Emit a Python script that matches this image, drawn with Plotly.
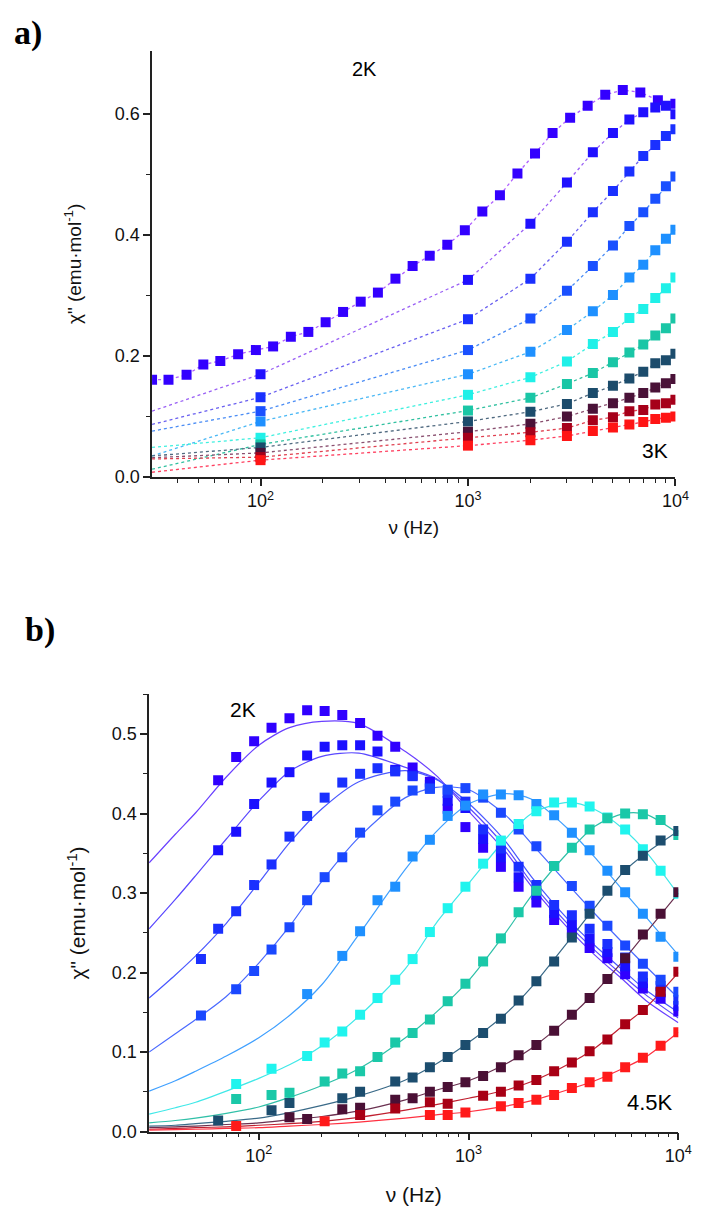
import math
import plotly.graph_objects as go

# ---------------- data ----------------
# shared frequency grid (Hz)
FREQ = [30, 36, 44, 53, 64, 78, 95, 115, 140, 170, 206, 250, 304, 368, 447, 541,
        654, 795, 966, 1173, 1426, 1732, 2105, 2558, 3108, 3776, 4590, 5577, 6775, 8231, 10000]

# panel a) 2 K .. 3 K
a_20 = [0.161, 0.161, 0.169, 0.186, 0.192, 0.203, 0.210, 0.216, 0.232, 0.240, 0.256, 0.273, 0.290, 0.305,
        0.328, 0.349, 0.366, 0.384, 0.408, 0.439, 0.466, 0.502, 0.535, 0.569, 0.594, 0.614, 0.632, 0.640,
        0.636, 0.623, 0.617]
A_FREQ = [100, 1000, 2000, 3000, 4000, 5000, 6000, 7000, 8000, 9000, 10000]
a_21 = [0.170, 0.326, 0.419, 0.487, 0.537, 0.569, 0.591, 0.603, 0.611, 0.614, 0.600]
a_22 = [0.132, 0.261, 0.328, 0.389, 0.438, 0.473, 0.505, 0.531, 0.549, 0.564, 0.575]
a_23 = [0.109, 0.210, 0.262, 0.308, 0.349, 0.383, 0.415, 0.438, 0.460, 0.481, 0.497]
a_24 = [0.092, 0.170, 0.207, 0.243, 0.274, 0.301, 0.330, 0.351, 0.375, 0.394, 0.409]
a_25 = [0.065, 0.136, 0.165, 0.191, 0.220, 0.240, 0.263, 0.278, 0.296, 0.312, 0.330]
a_26 = [0.054, 0.110, 0.131, 0.154, 0.172, 0.190, 0.206, 0.219, 0.234, 0.246, 0.262]
a_27 = [0.049, 0.092, 0.108, 0.121, 0.139, 0.151, 0.163, 0.174, 0.188, 0.193, 0.204]
a_28 = [0.040, 0.075, 0.088, 0.100, 0.113, 0.122, 0.131, 0.139, 0.148, 0.155, 0.162]
a_29 = [0.033, 0.065, 0.074, 0.081, 0.094, 0.099, 0.109, 0.111, 0.120, 0.122, 0.128]
a_30 = [0.028, 0.052, 0.061, 0.068, 0.076, 0.082, 0.087, 0.091, 0.096, 0.098, 0.100]
# where the dotted guide lines of a_21..a_30 enter at the left axis edge (30 Hz)
A_EDGE = [0.109, 0.087, 0.076, 0.035, 0.049, 0.013, 0.035, 0.032, 0.030, 0.008]

# panel b) 2 K .. 4.5 K, measured points on FREQ
N = None
b_200 = [N, N, N, N, 0.442, 0.471, 0.491, 0.508, 0.520, 0.530, 0.529, 0.524, 0.514, 0.498, 0.484, 0.458,
         0.440, 0.406, 0.383, 0.357, 0.333, 0.308, 0.288, 0.266, 0.250, 0.231, 0.218, 0.198, 0.180, 0.167, 0.151]
b_225 = [N, N, N, N, 0.354, 0.377, 0.412, 0.439, 0.452, 0.473, 0.484, 0.486, 0.486, 0.478, 0.455, 0.448,
         0.436, 0.416, 0.407, 0.368, 0.345, 0.320, 0.298, 0.275, 0.260, 0.243, 0.226, 0.208, 0.187, 0.175, 0.158]
b_250 = [N, N, N, 0.217, 0.255, 0.277, 0.310, 0.336, 0.371, 0.397, 0.420, 0.439, 0.450, 0.457, 0.453, 0.447,
         0.432, 0.426, 0.415, 0.380, 0.356, 0.333, 0.310, 0.285, 0.272, 0.255, 0.236, 0.219, 0.195, 0.183, 0.166]
b_275 = [N, N, N, 0.146, N, 0.179, 0.202, 0.229, 0.257, 0.291, 0.320, 0.345, 0.376, 0.404, 0.415, 0.429,
         0.431, 0.430, 0.432, 0.420, 0.401, 0.380, 0.359, 0.334, 0.309, 0.284, 0.259, 0.234, 0.211, 0.191, 0.176]
b_300 = [N, N, N, N, N, N, N, N, N, 0.173, N, 0.221, 0.252, 0.291, 0.308, 0.346,
         0.367, 0.397, 0.410, 0.424, 0.424, 0.423, 0.412, 0.398, 0.376, 0.354, 0.328, 0.301, 0.274, 0.245, 0.220]
b_325 = [N, N, N, N, N, 0.060, N, 0.079, N, 0.095, 0.112, 0.126, 0.147, 0.168, 0.191, 0.217,
         0.251, 0.281, 0.308, 0.337, 0.366, 0.387, 0.403, 0.414, 0.414, 0.409, 0.395, 0.380, 0.355, 0.328, 0.299]
b_350 = [N, N, N, N, N, 0.041, N, 0.046, 0.049, N, 0.063, 0.073, 0.076, 0.094, 0.112, 0.124,
         0.141, 0.164, 0.186, 0.214, 0.243, 0.276, 0.303, 0.334, 0.357, 0.380, 0.394, 0.400, 0.399, 0.392, 0.373]
b_375 = [N, N, N, N, 0.014, N, N, 0.027, 0.036, N, N, 0.042, 0.050, N, 0.063, 0.068,
         0.081, 0.094, 0.109, 0.124, 0.142, 0.165, 0.189, 0.214, 0.244, 0.274, 0.303, 0.329, 0.347, 0.366, 0.378]
b_400 = [N, N, N, N, N, N, N, N, 0.018, 0.016, N, 0.028, 0.030, N, 0.040, 0.042,
         0.050, 0.056, 0.062, 0.070, 0.081, 0.096, 0.109, 0.127, 0.147, 0.168, 0.192, 0.218, 0.248, 0.274, 0.301]
b_425 = [N, N, N, N, N, N, N, N, N, N, N, N, 0.021, N, 0.029, N,
         0.037, 0.035, N, 0.045, 0.050, 0.058, 0.065, 0.076, 0.087, 0.101, 0.116, 0.135, 0.153, 0.176, 0.201]
b_450 = [N, N, N, N, N, 0.007, N, N, N, N, 0.013, N, N, N, N, N,
         0.021, 0.021, 0.024, N, 0.032, 0.036, 0.040, 0.046, 0.055, 0.062, 0.069, 0.081, 0.093, 0.108, 0.125]

# panel b) fitted curves, read off at these frequencies
FIT_F = [30, 40, 50, 70, 100, 140, 200, 300, 500, 700, 1000, 1500, 2000, 3000, 4000, 5500, 7000, 10000]
fit_200 = [0.338, 0.374, 0.401, 0.446, 0.486, 0.508, 0.516, 0.513, 0.478, 0.448, 0.403, 0.352, 0.308, 0.255, 0.222, 0.190, 0.165, 0.137]
fit_225 = [0.255, 0.292, 0.322, 0.368, 0.416, 0.453, 0.472, 0.476, 0.458, 0.444, 0.408, 0.358, 0.313, 0.260, 0.228, 0.195, 0.172, 0.143]
fit_250 = [0.168, 0.197, 0.221, 0.262, 0.313, 0.363, 0.406, 0.440, 0.454, 0.443, 0.413, 0.365, 0.320, 0.266, 0.234, 0.202, 0.178, 0.150]
fit_275 = [0.100, 0.123, 0.141, 0.170, 0.212, 0.258, 0.315, 0.370, 0.420, 0.433, 0.430, 0.398, 0.362, 0.310, 0.274, 0.236, 0.208, 0.168]
fit_300 = [0.051, 0.064, 0.076, 0.095, 0.118, 0.146, 0.185, 0.248, 0.330, 0.377, 0.412, 0.425, 0.418, 0.380, 0.345, 0.302, 0.270, 0.222]
fit_325 = [0.022, 0.030, 0.037, 0.051, 0.067, 0.084, 0.108, 0.145, 0.205, 0.262, 0.312, 0.368, 0.400, 0.414, 0.405, 0.380, 0.352, 0.298]
fit_350 = [0.011, 0.014, 0.017, 0.023, 0.031, 0.043, 0.058, 0.079, 0.118, 0.150, 0.190, 0.250, 0.297, 0.352, 0.384, 0.400, 0.399, 0.375]
fit_375 = [0.007, 0.008, 0.010, 0.013, 0.017, 0.024, 0.033, 0.045, 0.065, 0.085, 0.112, 0.148, 0.182, 0.240, 0.282, 0.327, 0.350, 0.378]
fit_400 = [0.005, 0.006, 0.007, 0.009, 0.011, 0.015, 0.019, 0.026, 0.040, 0.052, 0.064, 0.085, 0.105, 0.143, 0.175, 0.216, 0.250, 0.300]
fit_425 = [0.003, 0.004, 0.005, 0.006, 0.008, 0.010, 0.013, 0.018, 0.027, 0.034, 0.042, 0.052, 0.063, 0.085, 0.105, 0.134, 0.156, 0.200]
fit_450 = [0.002, 0.0025, 0.003, 0.004, 0.005, 0.007, 0.009, 0.012, 0.017, 0.021, 0.025, 0.032, 0.039, 0.053, 0.064, 0.080, 0.094, 0.125]

# ---------------- colours ----------------
A_MARK = ["#3300ff", "#2010ff", "#1a30ff", "#1a50ff", "#1e90ff", "#20f0e8",
          "#1ac6a6", "#1c4c6c", "#4a1238", "#a6001a", "#ff1515"]
A_LINE = ["#b060ff", "#9a60f5", "#6a60f0", "#4a8cf5", "#4ab8f5", "#40f0e0",
          "#30c0a0", "#506a80", "#8a5070", "#e04050", "#ff4060"]
B_MARK = ["#3000ff", "#1a10ff", "#1a30ff", "#1a48ff", "#1e90ff", "#20f4ee",
          "#1ac8a8", "#1c4d6e", "#4a1035", "#a80015", "#ff1a1a"]
B_LINE = ["#6a40ff", "#5a48ff", "#4a58ff", "#4a6aff", "#40a0ff", "#40e8e8",
          "#30c0a8", "#3a6a88", "#6a3050", "#c02030", "#ff3040"]

A_SERIES = [a_21, a_22, a_23, a_24, a_25, a_26, a_27, a_28, a_29, a_30]
B_SERIES = [b_200, b_225, b_250, b_275, b_300, b_325, b_350, b_375, b_400, b_425, b_450]
B_FITS = [fit_200, fit_225, fit_250, fit_275, fit_300, fit_325, fit_350, fit_375, fit_400, fit_425, fit_450]

W, H = 701, 1209
def px(x):
    return x / W
def py(y):
    return 1 - y / H

fig = go.Figure()

# ---- panel a ----
fig.add_trace(go.Scatter(x=FREQ, y=a_20, mode="lines", xaxis="x", yaxis="y",
                         line=dict(color=A_LINE[0], width=1.3, dash="dot")))
for vals, edge, lc in zip(A_SERIES, A_EDGE, A_LINE[1:]):
    fig.add_trace(go.Scatter(x=[30] + A_FREQ, y=[edge] + vals, mode="lines", xaxis="x", yaxis="y",
                             line=dict(color=lc, width=1.3, dash="dot")))
fig.add_trace(go.Scatter(x=FREQ, y=a_20, mode="markers", xaxis="x", yaxis="y",
                         marker=dict(symbol="square", size=10, color=A_MARK[0])))
for vals, mc in zip(A_SERIES, A_MARK[1:]):
    fig.add_trace(go.Scatter(x=A_FREQ, y=vals, mode="markers", xaxis="x", yaxis="y",
                             marker=dict(symbol="square", size=10, color=mc)))

# ---- panel b ----
for fit, lc in zip(B_FITS, B_LINE):
    fig.add_trace(go.Scatter(x=FIT_F, y=fit, mode="lines", xaxis="x2", yaxis="y2",
                             line=dict(color=lc, width=1.2, shape="spline", smoothing=0.8)))
for vals, mc in zip(B_SERIES, B_MARK):
    fig.add_trace(go.Scatter(x=FREQ, y=vals, mode="markers", xaxis="x2", yaxis="y2",
                             marker=dict(symbol="square", size=10, color=mc)))

MINOR_X = [40, 50, 60, 70, 80, 90, 200, 300, 400, 500, 600, 700, 800, 900,
           2000, 3000, 4000, 5000, 6000, 7000, 8000, 9000]
axis_style = dict(showline=True, linecolor="#222", linewidth=1.6, ticks="outside", ticklen=7,
                  tickwidth=1.5, tickcolor="#222", showgrid=False, zeroline=False,
                  tickfont=dict(size=18, color="#111"))
x_style = dict(axis_style, type="log", range=[math.log10(30), 4],
               tickvals=[100, 1000, 10000],
               ticktext=["10<sup>2</sup>", "10<sup>3</sup>", "10<sup>4</sup>"],
               minor=dict(tickvals=MINOR_X, ticks="outside", ticklen=4, tickwidth=1.3,
                          tickcolor="#222", showgrid=False))

ytitle = 'χ" (emu·mol<sup>-1</sup>)'
fig.update_layout(
    width=W, height=H, margin=dict(l=0, r=0, t=0, b=0),
    paper_bgcolor="white", plot_bgcolor="white", showlegend=False,
    font=dict(family="Liberation Sans, Arial, sans-serif", size=18, color="#111"),
    xaxis=dict(x_style, domain=[px(147), px(681)], anchor="y",
               title=dict(text="ν (Hz)", font=dict(size=19), standoff=10)),
    yaxis=dict(axis_style, domain=[py(473), py(43)], anchor="x", range=[0, 0.705],
               tickvals=[0, 0.2, 0.4, 0.6], ticktext=["0.0", "0.2", "0.4", "0.6"],
               minor=dict(tickvals=[0.1, 0.3, 0.5], ticks="outside", ticklen=4, tickwidth=1.3,
                          tickcolor="#222", showgrid=False),
               title=dict(text=ytitle, font=dict(size=19), standoff=28)),
    xaxis2=dict(x_style, domain=[px(144), px(684)], anchor="y2",
                title=dict(text="ν (Hz)", font=dict(size=21), standoff=22)),
    yaxis2=dict(axis_style, domain=[py(1133), py(692)], anchor="x2", range=[0, 0.55],
                dtick=0.1, tickformat=".1f",
                minor=dict(dtick=0.05, ticks="outside", ticklen=4, tickwidth=1.3,
                           tickcolor="#222", showgrid=False),
                title=dict(text=ytitle, font=dict(size=21), standoff=20)),
)

labels = [("a)", 20, 25, 34, "Liberation Serif", True), ("b)", 33, 627, 34, "Liberation Serif", True),
          ("2K", 364, 62, 20, None, False), ("3K", 660, 446, 21, None, False),
          ("2K", 240, 707, 21, None, False), ("4.5K", 655, 1104, 22, None, False)]
for text, x, y, size, fam, bold in labels:
    f = dict(size=size, color="#000")
    if fam:
        f["family"] = fam
    fig.add_annotation(text=f"<b>{text}</b>" if bold else text, xref="paper", yref="paper",
                       x=px(x), y=py(y), xanchor="center", yanchor="middle", showarrow=False, font=f)

fig.write_html("out.html")
